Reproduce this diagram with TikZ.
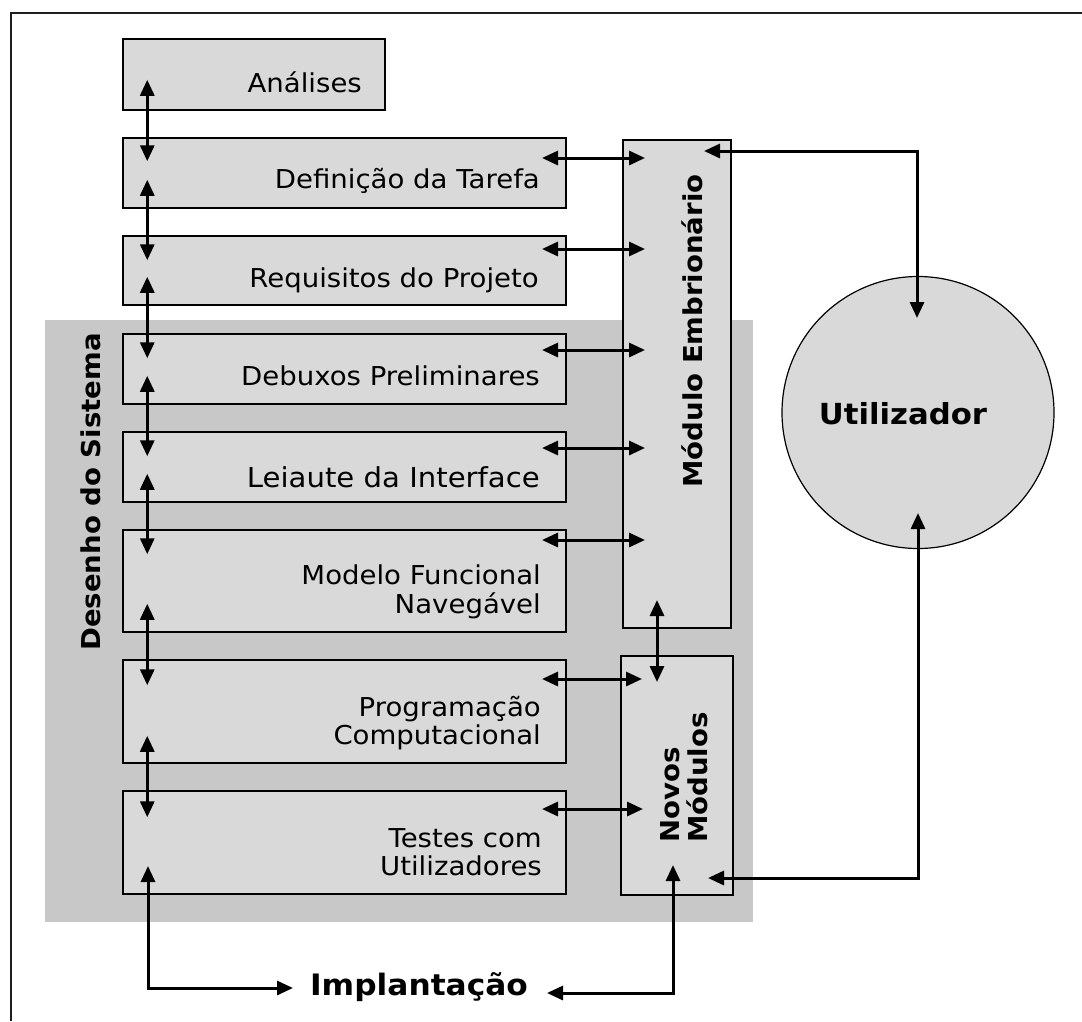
\documentclass[tikz,border=0pt]{standalone}
\usepackage{fontspec}
\setmainfont{DejaVu Sans}[FakeStretch=1.06]
\usetikzlibrary{arrows.meta}
\definecolor{boxgray}{RGB}{217,217,217}
\definecolor{bandgray}{RGB}{200,200,200}
\definecolor{framegray}{RGB}{30,30,30}

\begin{document}
\begin{tikzpicture}[x=1pt,y=-1pt,
  stage/.style={draw=black, line width=1.5pt, fill=boxgray, inner sep=0pt},
  lbl/.style={inner sep=0pt, font=\fontsize{26}{27}\selectfont},
  blbl/.style={inner sep=0pt, font=\fontsize{26}{24}\selectfont\bfseries},
  tip/.tip={Triangle[length=16pt,width=14pt]},
  link/.style={line width=3pt, tip-tip},
]
\useasboundingbox (0,0) rectangle (1082,1021);
\fill[white] (0,0) rectangle (1082,1021);

% outer frame (left and top edges)
\draw[framegray, line width=2pt] (11,1021) -- (11,13) -- (1082,13);

% system design band
\node[fill=bandgray, inner sep=0pt, minimum width=708pt, minimum height=602pt] (band) at (399,621) {};
\node[blbl, rotate=90] (tband) at (91,492) {Desenho do Sistema};

% stage boxes
\node[stage, minimum width=262pt, minimum height=71pt]  (ana) at (254,74.5) {};
\node[stage, minimum width=443pt, minimum height=70pt]  (def) at (344.5,173) {};
\node[stage, minimum width=443pt, minimum height=69pt]  (req) at (344.5,270.5) {};
\node[stage, minimum width=443pt, minimum height=70pt]  (deb) at (344.5,369) {};
\node[stage, minimum width=443pt, minimum height=70pt]  (lei) at (344.5,467) {};
\node[stage, minimum width=443pt, minimum height=102pt] (mod) at (344.5,581) {};
\node[stage, minimum width=443pt, minimum height=103pt] (prg) at (344.5,711.5) {};
\node[stage, minimum width=443pt, minimum height=103pt] (tst) at (344.5,842.5) {};

% stage labels
\node[lbl, anchor=base east] (tana) at (362,92) {Análises};
\node[lbl, anchor=base east] (tdef) at (540,188) {Definição da Tarefa};
\node[lbl, anchor=base east] (treq) at (539,287) {Requisitos do Projeto};
\node[lbl, anchor=base east] (tdeb) at (540,385) {Debuxos Preliminares};
\node[lbl, anchor=base east, font=\fontsize{27.5}{29}\selectfont] (tlei) at (540,487) {Leiaute da Interface};
\node[lbl, anchor=base east] (tmod) at (541,613) {\begin{tabular}[b]{@{}r@{}}Modelo Funcional\\Navegável\end{tabular}};
\node[lbl, anchor=base east] (tprg) at (541,744) {\begin{tabular}[b]{@{}r@{}}Programação\\Computacional\end{tabular}};
\node[lbl, anchor=base east] (ttst) at (542,875) {\begin{tabular}[b]{@{}r@{}}Testes com\\Utilizadores\end{tabular}};

% module boxes
\node[stage, minimum width=108pt, minimum height=488pt] (emb) at (677,384) {};
\node[blbl, rotate=90] (temb) at (692,331) {Módulo Embrionário};
\node[stage, minimum width=112pt, minimum height=239pt] (nov) at (677,775.5) {};
\node[blbl, rotate=90, anchor=west] (tnov) at (688,843) {\begin{tabular}{@{}l@{}}Novos\\Módulos\end{tabular}};

% user
\node[draw=black, line width=1.2pt, fill=boxgray, circle, minimum size=272pt, inner sep=0pt] (usr) at (918,412.5) {};
\node[blbl, font=\fontsize{29}{30}\selectfont\bfseries] (tusr) at (903,414) {Utilizador};

% deployment
\node[inner sep=0pt, font=\fontsize{29.5}{30}\selectfont\bfseries] (imp) at (419,987) {Implantação};

% links between consecutive stages
\draw[link] ([xshift=25pt,yshift=31pt]ana.south west) -- ([xshift=25pt,yshift=-24pt]def.north west);
\draw[link] ([xshift=25pt,yshift=29pt]def.south west) -- ([xshift=25pt,yshift=-25pt]req.north west);
\draw[link] ([xshift=25pt,yshift=29pt]req.south west) -- ([xshift=25pt,yshift=-25pt]deb.north west);
\draw[link] ([xshift=25pt,yshift=29pt]deb.south west) -- ([xshift=25pt,yshift=-25pt]lei.north west);
\draw[link] ([xshift=25pt,yshift=29pt]lei.south west) -- ([xshift=25pt,yshift=-25pt]mod.north west);
\draw[link] ([xshift=25pt,yshift=29pt]mod.south west) -- ([xshift=25pt,yshift=-26pt]prg.north west);
\draw[link] ([xshift=25pt,yshift=28pt]prg.south west) -- ([xshift=25pt,yshift=-27pt]tst.north west);

% links between stages and modules
\coordinate (hdefL) at (542,158); \coordinate (hdefR) at (645,158);
\coordinate (hreqL) at (542,249); \coordinate (hreqR) at (645,249);
\coordinate (hdebL) at (542,350); \coordinate (hdebR) at (645,350);
\coordinate (hleiL) at (542,448); \coordinate (hleiR) at (645,448);
\coordinate (hmodL) at (542,540); \coordinate (hmodR) at (645,540);
\coordinate (hprgL) at (542,679); \coordinate (hprgR) at (642,679);
\coordinate (htstL) at (542,809); \coordinate (htstR) at (643,809);
\draw[link] (hdefL) -- (hdefR);
\draw[link] (hreqL) -- (hreqR);
\draw[link] (hdebL) -- (hdebR);
\draw[link] (hleiL) -- (hleiR);
\draw[link] (hmodL) -- (hmodR);
\draw[link] (hprgL) -- (hprgR);
\draw[link] (htstL) -- (htstR);

% embryonic module <-> new modules
\coordinate (embB) at (657,600); \coordinate (novT) at (657,682);
\draw[link] (embB) -- (novT);

% tests <-> deployment
\coordinate (tstB) at (148,866);
\coordinate (impL) at (293,988);
\draw[link] (tstB) |- (impL);

% new modules <-> deployment
\coordinate (novB) at (673,865);
\coordinate (impR) at (547,993);
\draw[link] (novB) |- (impR);

% user <-> new modules
\coordinate (novR) at (708,878);
\coordinate (usrB) at (918,513);
\draw[link] (novR) -| (usrB);

% user <-> embryonic module
\coordinate (embR) at (704,151);
\coordinate (usrT) at (917,318);
\draw[link] (embR) -| (usrT);
\end{tikzpicture}
\end{document}
